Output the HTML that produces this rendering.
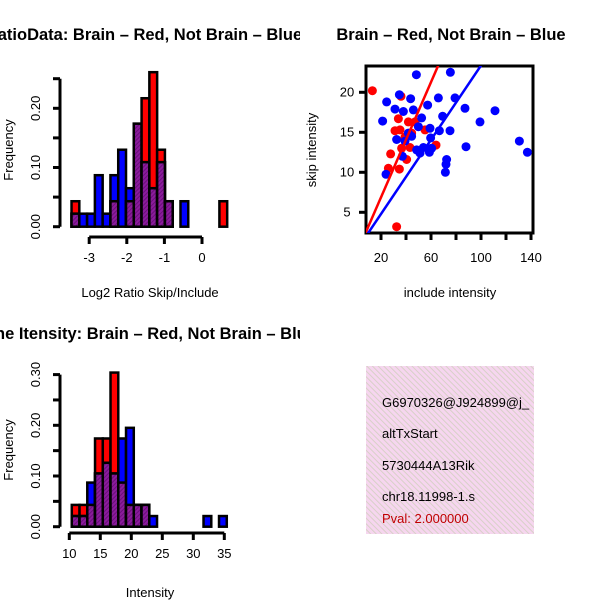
<!DOCTYPE html>
<html><head><meta charset="utf-8"><style>
body{margin:0;background:#fff}
svg{display:block;font-family:"Liberation Sans",sans-serif}
</style></head><body>
<svg id="fig" width="600" height="600" viewBox="0 0 600 600" xmlns="http://www.w3.org/2000/svg">
<defs>
<pattern id="purp" width="3" height="3" patternUnits="userSpaceOnUse" patternTransform="rotate(45)">
<rect width="3" height="3" fill="#8b1c9c"/><rect width="1" height="3" fill="#6a0f7a"/>
</pattern>
<pattern id="pink" width="4" height="4" patternUnits="userSpaceOnUse" patternTransform="rotate(-45)">
<rect width="4" height="4" fill="#f6d6ef"/><rect width="1" height="4" fill="#d8d0c8"/>
</pattern>
<clipPath id="leftclip"><rect x="0" y="0" width="300" height="600"/></clipPath>
<clipPath id="scatclip"><rect x="366" y="66" width="167" height="167"/></clipPath>
<clipPath id="boxclip"><rect x="366" y="366" width="168" height="168"/></clipPath>
</defs>
<g id="g1"></g>
<g id="g2"></g>
<g id="g3"></g>
<g clip-path="url(#boxclip)">
<rect x="366" y="366" width="168" height="168" fill="url(#pink)"/>
<text x="382" y="407" font-size="13">G6970326@J924899@j_</text>
<text x="382" y="438" font-size="13">altTxStart</text>
<text x="382" y="470" font-size="13">5730444A13Rik</text>
<text x="382" y="501" font-size="13">chr18.11998-1.s</text>
<text x="382" y="523" font-size="13" fill="#c00000">Pval: 2.000000</text>
</g>
</svg>
<script>
// ---- Histogram 1 data (Log2 ratio) ----
const ratioBinStart = -3.47;
const ratioBinWidth = 0.207;
const ratioRed  = [0.043,0,0,0,0,0.043,0,0.043,0.174,0.217,0.261,0.130,0.043,0,0,0,0,0,0,0.043];
const ratioBlue = [0.022,0.022,0.022,0.087,0.022,0.087,0.130,0.065,0.174,0.109,0.065,0.109,0.043,0,0.043,0,0,0,0,0];
const ratioXTicks = [-3,-2,-1,0];
const ratioYTicks = ["0.00","0.10","0.20"];
// ---- Histogram 2 data (Intensity) ----
const intBinStart = 10.4;
const intBinWidth = 1.25;
const intRed  = [0.043,0.043,0.043,0.174,0.174,0.304,0.087,0.043,0.043,0.043,0,0,0,0,0,0,0,0,0,0];
const intBlue = [0.021,0.021,0.087,0.105,0.126,0.105,0.174,0.195,0.043,0.043,0.021,0,0,0,0,0,0,0.021,0,0.021];
const intXTicks = [10,15,20,25,30,35];
const intYTicks = ["0.00","0.10","0.20","0.30"];
// ---- Scatter data ----
const redX = [13.1,36,33.9,41.9,47.2,31.2,35.2,55.2,44.5,36.5,43.2,27.7,40.5,25.9,34.7,64,32.5,39.2];
const redY = [20.2,19.5,16.7,16.3,16.3,15.2,15.3,15.3,14.9,13.0,13.1,12.3,11.6,10.5,10.4,13.4,3.2,14.4];
const blueX = [48.3,75.5,34.7,24.5,43.7,31.2,37.9,45.9,57.3,65.9,79.2,87.2,111.2,21.3,52.5,69.3,49.9,59.2,66.7,75.2,99.2,32.5,41.9,59.7,39.2,48.5,53.9,60.5,51.2,58.7,37.1,72.5,72,71.5,88,130.7,137.1,24,44.5];
const blueY = [22.2,22.5,19.7,18.8,19.2,17.9,17.6,17.8,18.4,19.3,19.3,18.0,17.7,16.4,16.8,17.0,15.7,15.5,15.2,15.2,16.3,14.1,14.9,14.3,13.9,12.8,13.1,13.0,12.4,12.5,12.0,11.6,11.0,10.0,13.2,13.9,12.5,9.75,14.5];
const redLine = [-0.33, 0.36];   // intercept, slope
const blueLine = [0.15, 0.232];
const scatXTicks = [20,40,60,80,100,120,140];
const scatXLabels = ["20","","60","","100","","140"];
const scatYTicks = [5,10,15,20];

const NS="http://www.w3.org/2000/svg";
function mk(parent,tag,attrs,txt){const e=document.createElementNS(NS,tag);for(const k in attrs)e.setAttribute(k,attrs[k]);if(txt!==undefined)e.textContent=txt;parent.appendChild(e);return e;}

function histogram(g,cfg){
  const xs=v=>cfg.x0px+(v-cfg.x0)*cfg.xk;
  const ys=v=>cfg.y0px-v*cfg.yk;
  for(let i=0;i<cfg.red.length;i++){
    const a=xs(cfg.start+i*cfg.w), b=xs(cfg.start+(i+1)*cfg.w);
    const r=cfg.red[i], bl=cfg.blue[i];
    if(r>0){const e=mk(g,'rect',{x:a,y:ys(r),width:b-a,height:ys(0)-ys(r),fill:'#ff0000',stroke:'#000','stroke-width':2.5});
      
      }
    if(bl>0){const e=mk(g,'rect',{x:a,y:ys(bl),width:b-a,height:ys(0)-ys(bl),fill:'#0000ff',stroke:'#000','stroke-width':2.5});
      
      }
    const m=Math.min(r,bl);
    if(m>0){const e=mk(g,'rect',{x:a,y:ys(m),width:b-a,height:ys(0)-ys(m),fill:'url(#purp)',stroke:'#000','stroke-width':2.5});
      
      }
  }
  const ya=mk(g,'line',{x1:cfg.yaxX,x2:cfg.yaxX,y1:ys(0),y2:ys(cfg.ymax),stroke:'#000','stroke-width':3});
  
  
  for(let v=0;v<=cfg.ymax+1e-9;v+=0.05){mk(g,'line',{x1:cfg.yaxX-7,x2:cfg.yaxX,y1:ys(v),y2:ys(v),stroke:'#000','stroke-width':3});}
  cfg.yTicks.forEach(t=>{const v=parseFloat(t);const e=mk(g,'text',{x:cfg.yaxX-20,y:ys(v),'font-size':13,'text-anchor':'middle',transform:`rotate(-90 ${cfg.yaxX-20} ${ys(v)})`},t);
    
    });
  const xa=mk(g,'line',{x1:xs(cfg.xTicks[0]),x2:xs(cfg.xTicks[cfg.xTicks.length-1]),y1:cfg.xaxY,y2:cfg.xaxY,stroke:'#000','stroke-width':3});
  
  
  cfg.xTicks.forEach(t=>{mk(g,'line',{x1:xs(t),x2:xs(t),y1:cfg.xaxY,y2:cfg.xaxY+7,stroke:'#000','stroke-width':3});
    const e=mk(g,'text',{x:xs(t),y:cfg.xaxY+25,'font-size':13,'text-anchor':'middle'},String(t));
    
    });
  const xl=mk(g,'text',{x:cfg.xlabX,y:cfg.xlabY,'font-size':13,'text-anchor':'middle'},cfg.xlab);
  
  
  const yl=mk(g,'text',{x:13,y:cfg.ylabY,'font-size':13,'text-anchor':'middle',transform:`rotate(-90 13 ${cfg.ylabY})`},'Frequency');
  
  
  const ti=mk(g,'text',{x:cfg.titleX,y:cfg.titleY,'font-size':16.5,'font-weight':'bold','text-anchor':'middle','clip-path':'url(#leftclip)'},cfg.title);
  
  
}

histogram(document.getElementById('g1'),{red:ratioRed,blue:ratioBlue,start:ratioBinStart,w:ratioBinWidth,
  x0:0,x0px:202,xk:37.6,y0px:226.7,yk:592,ymax:0.25,yaxX:60,xaxY:237,xTicks:ratioXTicks,yTicks:ratioYTicks,
  xlab:'Log2 Ratio Skip/Include',xlabX:150,xlabY:297,ylabY:150,title:'Log2 RatioData: Brain \u2013 Red, Not Brain \u2013 Blue',titleX:122,titleY:40});

histogram(document.getElementById('g3'),{red:intRed,blue:intBlue,start:intBinStart,w:intBinWidth,
  x0:10,x0px:69.3,xk:6.2,y0px:526.7,yk:507,ymax:0.30,yaxX:60,xaxY:533,xTicks:intXTicks,yTicks:intYTicks,
  xlab:'Intensity',xlabX:150,xlabY:597,ylabY:450,title:'Exon/Gene Itensity: Brain \u2013 Red, Not Brain \u2013 Blue',titleX:122,titleY:339});

(function(){
  const g=document.getElementById('g2');
  const xs=v=>356+v*1.25, ys=v=>252.3-v*8;
  const box=mk(g,'rect',{x:366,y:66,width:167,height:167,fill:'none',stroke:'#000','stroke-width':3});
  
  
  const pg=mk(g,'g',{'clip-path':'url(#scatclip)'});
  redX.forEach((x,i)=>{const c=mk(pg,'circle',{cx:xs(x),cy:ys(redY[i]),r:4.5,fill:'#ff0000'});
    
    });
  blueX.forEach((x,i)=>{const c=mk(pg,'circle',{cx:xs(x),cy:ys(blueY[i]),r:4.5,fill:'#0000ff'});
    
    });
  [[redLine,'#ff0000','red-fit-line'],[blueLine,'#0000ff','blue-fit-line']].forEach(([L,col,nm])=>{
    const e=mk(pg,'line',{x1:xs(0),y1:ys(L[0]),x2:xs(150),y2:ys(L[0]+L[1]*150),stroke:col,'stroke-width':2.5});
    
    });
  scatXTicks.forEach((t,i)=>{mk(g,'line',{x1:xs(t),x2:xs(t),y1:233,y2:240,stroke:'#000','stroke-width':3});
    if(scatXLabels[i]){const e=mk(g,'text',{x:xs(t),y:262,'font-size':13,'text-anchor':'middle'},scatXLabels[i]);
      
      }});
  scatYTicks.forEach(t=>{mk(g,'line',{x1:359,x2:366,y1:ys(t),y2:ys(t),stroke:'#000','stroke-width':3});
    const e=mk(g,'text',{x:347,y:ys(t)+4,'font-size':13,'text-anchor':'middle'},String(t));
    
    });
  const xl=mk(g,'text',{x:450,y:297,'font-size':13,'text-anchor':'middle'},'include intensity');
  
  
  const yl=mk(g,'text',{x:316,y:150,'font-size':13,'text-anchor':'middle',transform:'rotate(-90 316 150)'},'skip intensity');
  
  
  const ti=mk(g,'text',{x:451,y:40,'font-size':16.5,'font-weight':'bold','text-anchor':'middle'},'Brain \u2013 Red, Not Brain \u2013 Blue');
  
  
})();
</script>
</body></html>
